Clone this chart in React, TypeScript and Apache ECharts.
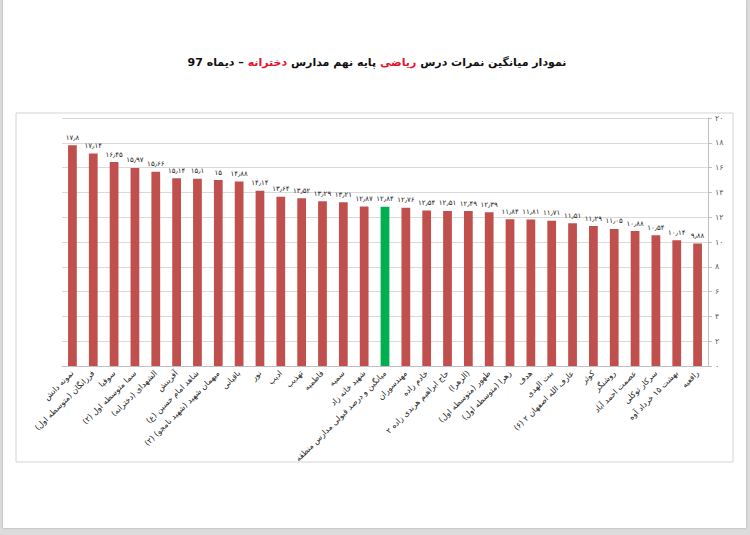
import { useEffect, useRef } from "react";
import * as echarts from "echarts";

// مدارس، از چپ به راست همان‌طور که در نمودار آمده
const schools = [
  "نمونه دانش",
  "فرزانگان (متوسطه اول)",
  "سوفیا",
  "سما متوسطه اول (۲)",
  "الشهدای (دخترانه)",
  "آفرینش",
  "شاهد امام حسین (ع)",
  "میهمان شهید (شهید نامجو) (۲)",
  "باقیانی",
  "نور",
  "ادیب",
  "تهذیب",
  "فاطمیه",
  "سمیه",
  "شهید خانه زاد",
  "میانگین و درصد قبولی مدارس منطقه",
  "مهندسوران",
  "خادم زاده",
  "حاج ابراهیم هرندی زاده ۲",
  "(الزهرا)",
  "طهور (متوسطه اول)",
  "زهرا (متوسطه اول)",
  "هدف",
  "بنت الهدی",
  "عارف الله اصفهان ۲ (۶)",
  "کوثر",
  "روشنگر",
  "عصمت احمد آباد",
  "سرکار توکلی",
  "بهشت ۱۵ خرداد آوه",
  "رافعیه",
];

const scores = [
  17.8, 17.14, 16.45, 15.97, 15.66, 15.14, 15.1, 15, 14.88, 14.14, 13.64, 13.52, 13.29, 13.21, 12.87,
  12.84, 12.76, 12.54, 12.51, 12.49, 12.39, 11.84, 11.81, 11.71, 11.51, 11.29, 11.05, 10.88, 10.54,
  10.14, 9.88,
];

// میانگین منطقه (ستون سبز)
const AVG_INDEX = 15;

// عنوان: کلمه به کلمه (r = قرمز)
const titleWords = [
  ["نمودار", "t"],
  ["میانگین", "t"],
  ["نمرات", "t"],
  ["درس", "t"],
  ["ریاضی", "r"],
  ["پایه", "t"],
  ["نهم", "t"],
  ["مدارس", "t"],
  ["دخترانه", "r"],
  ["–", "t"],
  ["دیماه", "t"],
  ["97", "t"],
];

const RED = "#C0504D";
const GREEN = "#00B050";
const FONT = "DejaVu Sans";
const FA_DIGITS = "۰۱۲۳۴۵۶۷۸۹";
const toFa = (v: number | string) =>
  String(v).replace(/\d/g, (d) => FA_DIGITS[+d]).replace(".", "٫");

export default function App() {
  const ref = useRef<HTMLDivElement>(null);

  useEffect(() => {
    if (!ref.current) return;
    const chart = echarts.init(ref.current, undefined, { renderer: "svg" });

    chart.setOption({
      animation: false,
      textStyle: { fontFamily: FONT },
      title: {
        // the browser's bidi flips the token order, so feed it reversed
        text: [...titleWords].reverse().map(([w, s]) => `{${s}|${w}}`).join(" "),
        left: 372,
        textAlign: "center",
        top: 52,
        textStyle: {
          fontSize: 11,
          fontWeight: "bold",
          color: "#111",
          rich: {
            t: { fontSize: 11, fontWeight: "bold", color: "#111", fontFamily: FONT },
            r: { fontSize: 11, fontWeight: "bold", color: "#E8102B", fontFamily: FONT },
          },
        },
      },
      graphic: [
        {
          type: "rect",
          shape: { x: 16, y: 113, width: 717, height: 349 },
          style: { fill: "none", stroke: "#D4D4D4", lineWidth: 1 },
          silent: true,
        },
      ],
      grid: { left: 62, right: 42, top: 118, bottom: 169 },
      xAxis: {
        type: "category",
        data: schools,
        axisLine: { lineStyle: { color: "#BFBFBF" } },
        axisTick: { show: false },
        axisLabel: {
          interval: 0,
          rotate: 45,
          fontSize: 8,
          color: "#222",
          margin: 6,
          formatter: (s: string) => "\u202B" + s + "\u202C",
        },
      },
      yAxis: {
        type: "value",
        position: "right",
        min: 0,
        max: 20,
        interval: 2,
        axisLine: { show: true, lineStyle: { color: "#BFBFBF" } },
        axisTick: { show: true, length: 4, lineStyle: { color: "#BFBFBF" } },
        axisLabel: { fontSize: 8, color: "#595959", margin: 7, formatter: (v: number) => toFa(v) },
        splitLine: { lineStyle: { color: "#D9D9D9" } },
      },
      series: [
        {
          type: "bar",
          barWidth: "42%",
          data: scores.map((v, i) =>
            i === AVG_INDEX ? { value: v, itemStyle: { color: GREEN } } : v
          ),
          itemStyle: { color: RED },
          label: {
            show: true,
            position: "top",
            distance: 4,
            fontSize: 7,
            color: "#222",
            formatter: (p: { value: number }) => toFa(p.value),
          },
        },
      ],
    });

    return () => chart.dispose();
  }, []);

  return (
    <div style={{ position: "absolute", left: 0, top: 0, width: 750, height: 535, background: "#DCDCDC" }}>
      <div
        style={{
          position: "absolute",
          left: 3,
          top: 0,
          width: 743,
          height: 528,
          background: "#FFFFFF",
          boxShadow: "0 0 2px rgba(0,0,0,0.25)",
        }}
      />
      <div ref={ref} style={{ position: "absolute", left: 0, top: 0, width: 750, height: 535 }} />
    </div>
  );
}
